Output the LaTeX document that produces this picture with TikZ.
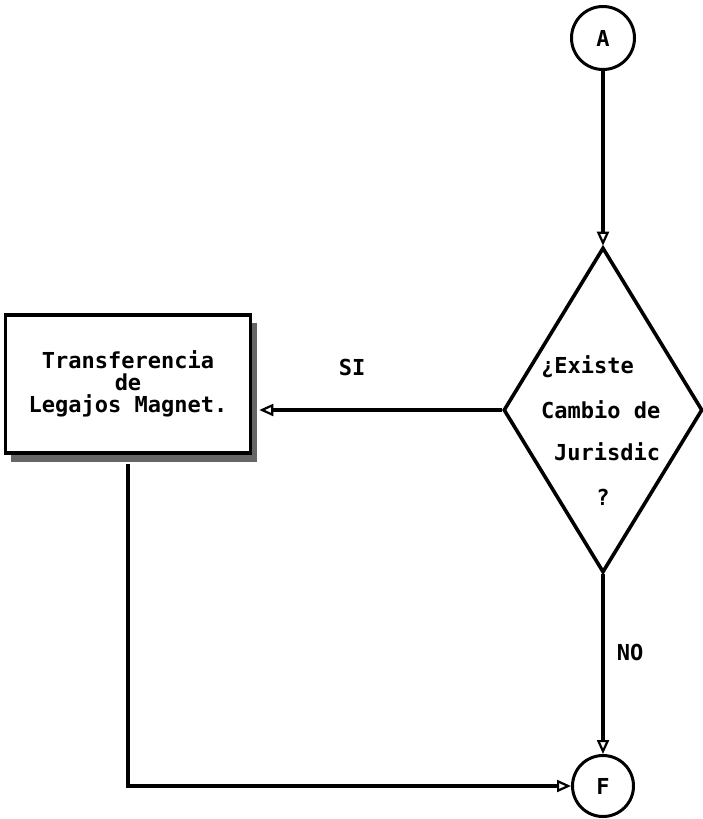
\documentclass[tikz,border=0pt]{standalone}
\usepackage{fontspec}
\setmonofont{DejaVu Sans Mono}
\usetikzlibrary{shapes.geometric,arrows.meta}
\begin{document}
\begin{tikzpicture}[x=1pt,y=-1pt,
  every node/.style={font=\ttfamily\bfseries\fontsize{22}{22}\selectfont},
  conn/.style={circle,draw,line width=3pt,minimum size=63pt,inner sep=0pt},
  proc/.style={rectangle,draw,fill=white,line width=3.6pt,minimum width=245pt,minimum height=138pt,inner sep=0pt,align=center},
  dec/.style={diamond,draw,line width=3.6pt,minimum width=199pt,minimum height=325pt,inner sep=0pt},
  flow/.style={line width=3.2pt,-{Triangle[open,length=14pt,width=12pt,line width=2.2pt]}},
  lbl/.style={inner sep=0pt}
]
\useasboundingbox (0,0) rectangle (703,819);
\node[conn] (A) at (603,38) {A};
\node[dec] (D) at (603,410) {};
\node[lbl,anchor=west] (t1) at (541,367) {¿Existe};
\node[lbl,anchor=west] (t2) at (541,410) {Cambio de};
\node[lbl,anchor=west] (t3) at (554,452) {Jurisdic};
\node[lbl] (t4) at (603,497) {?};
\fill[black!60] (11,323) rectangle (257,462);
\node[proc] (B) at (128,384) {\fontsize{22}{19}\selectfont Transferencia\\de\\Legajos Magnet.};
\node[conn,minimum size=61pt] (F) at (603,786) {F};
\node[lbl] (si) at (352,367) {SI};
\node[lbl] (no) at (630,652) {NO};
\draw[flow] (A) -- (D.north);
\draw[flow] (D.west) -- ([xshift=7pt]D.west -| B.east);
\draw[flow] (D.south) -- (F.north);
\coordinate (c1) at (B.south |- F.west);
\draw[flow] ([yshift=-9pt]B.south) -- (c1) -- (F.west);
\end{tikzpicture}
\end{document}
